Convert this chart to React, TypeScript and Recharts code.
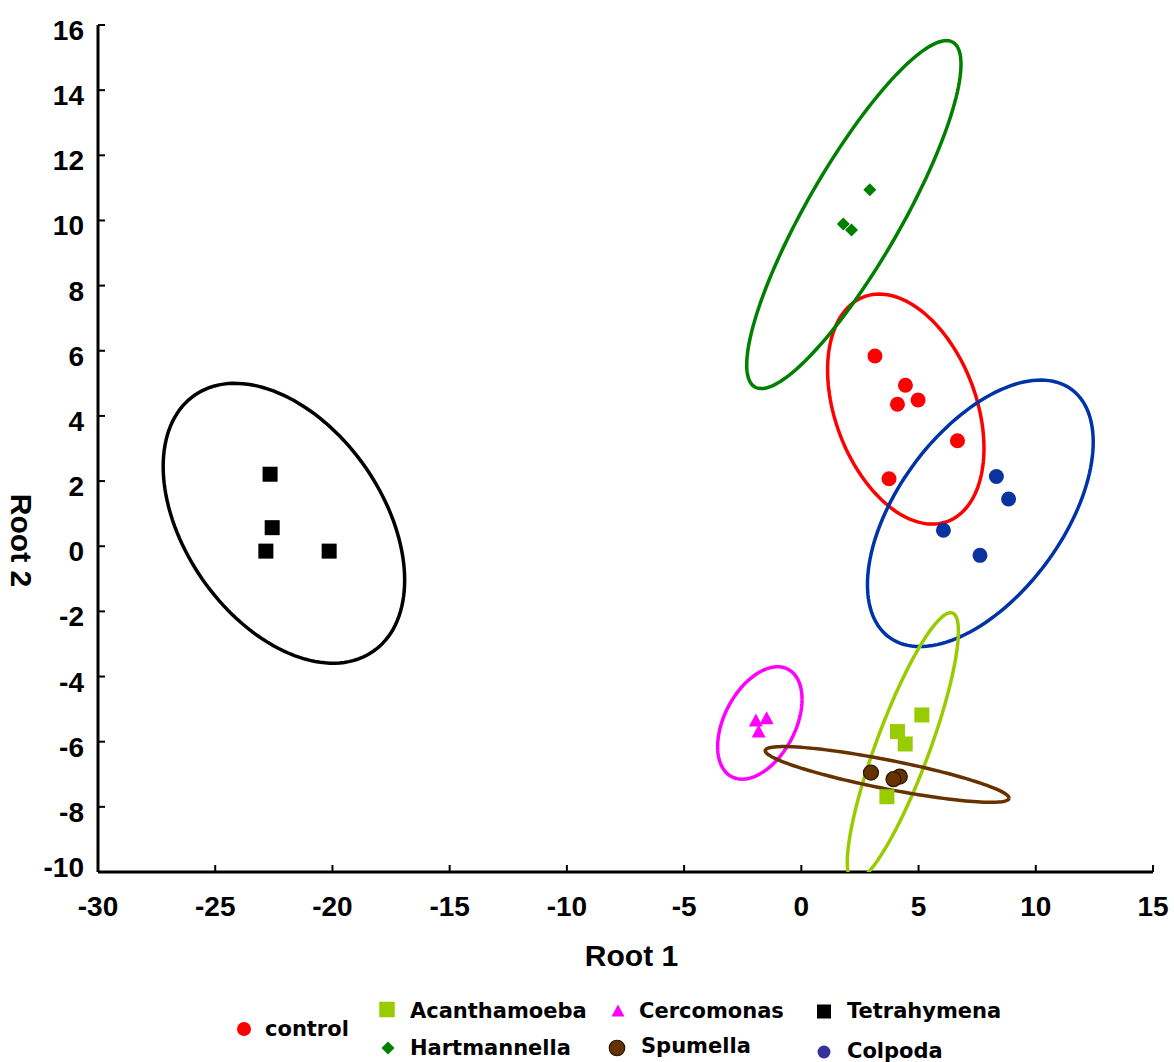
import React from "react";
import { ScatterChart, Scatter, XAxis, YAxis } from "recharts";

// axis ticks
const X_TICKS = [-30, -25, -20, -15, -10, -5, 0, 5, 10, 15];
const X_MINOR = [
  -29, -28, -27, -26, -24, -23, -22, -21, -19, -18, -17, -16, -14, -13, -12, -11,
  -9, -8, -7, -6, -4, -3, -2, -1, 1, 2, 3, 4, 6, 7, 8, 9, 11, 12, 13, 14,
];
const Y_TICKS = [-10, -8, -6, -4, -2, 0, 2, 4, 6, 8, 10, 12, 14, 16];
const Y_MINOR = [-9, -7, -5, -3, -1, 1, 3, 5, 7, 9, 11, 13, 15];

// group scores [root1, root2]
const controlPts = [[3.14, 5.84], [4.44, 4.94], [4.1, 4.36], [4.98, 4.49], [6.66, 3.24], [3.74, 2.07]];
const acanthPts = [[5.14, -5.18], [4.1, -5.69], [4.43, -6.07], [3.65, -7.69]];
const cercoPts = [[-1.48, -5.28], [-1.94, -5.35], [-1.82, -5.69]];
const tetraPts = [[-22.66, 2.21], [-22.57, 0.57], [-22.84, -0.15], [-20.14, -0.15]];
const hartPts = [[2.92, 10.94], [1.79, 9.89], [2.14, 9.71]];
const spumPts = [[2.97, -6.95], [4.2, -7.07], [3.93, -7.15]];
const colpPts = [[8.32, 2.14], [8.84, 1.45], [6.06, 0.49], [7.62, -0.28]];

// confidence ellipses: [centerX, centerY, halfWidthX, halfHeightY, cos(phase)]
const controlEll = [4.455, 4.21, 3.335, 3.53, -0.34];
const acanthEll = [4.33, -6.16, 2.37, 4.12, 0.86];
const cercoEll = [-1.77, -5.425, 1.8, 1.725, 0.42];
const tetraEll = [-22.07, 0.705, 5.15, 4.295, -0.406];
const hartEll = [2.24, 10.18, 4.57, 5.34, 0.864];
const spumEll = [3.66, -7.005, 5.2, 0.855, -0.85];
const colpEll = [7.635, 1.01, 4.815, 4.09, 0.535];

type Kind = "circle" | "square" | "diamond" | "triangle";

const groups: {
  name: string;
  pts: number[][];
  ell: number[];
  color: string;
  line: string;
  kind: Kind;
  size: number;
  outline?: string;
}[] = [
  { name: "control", pts: controlPts, ell: controlEll, color: "#ff0000", line: "#ff0000", kind: "circle", size: 15 },
  { name: "Hartmannella", pts: hartPts, ell: hartEll, color: "#008000", line: "#008000", kind: "diamond", size: 13 },
  { name: "Colpoda", pts: colpPts, ell: colpEll, color: "#0a33a0", line: "#0033a8", kind: "circle", size: 15 },
  { name: "Acanthamoeba", pts: acanthPts, ell: acanthEll, color: "#99cc00", line: "#99cc00", kind: "square", size: 15 },
  { name: "Cercomonas", pts: cercoPts, ell: cercoEll, color: "#ff00ff", line: "#ff00ff", kind: "triangle", size: 14 },
  { name: "Spumella", pts: spumPts, ell: spumEll, color: "#663300", line: "#663300", kind: "circle", size: 15, outline: "#2a1500" },
  { name: "Tetrahymena", pts: tetraPts, ell: tetraEll, color: "#000000", line: "#000000", kind: "square", size: 15 },
];

function ellipsePoints(e: number[]) {
  const [cx, cy, ax, ay, c] = e;
  const phi = Math.acos(c);
  const out: { x: number; y: number }[] = [];
  for (let i = 0; i <= 144; i++) {
    const t = (i / 144) * 2 * Math.PI;
    out.push({ x: cx + ax * Math.cos(t), y: cy + ay * Math.cos(t - phi) });
  }
  return out;
}

function Marker({ kind, cx, cy, color, size, outline }: any) {
  const h = size / 2;
  if (kind === "square")
    return <rect x={cx - h} y={cy - h} width={size} height={size} fill={color} />;
  if (kind === "diamond")
    return <polygon points={`${cx},${cy - h} ${cx + h},${cy} ${cx},${cy + h} ${cx - h},${cy}`} fill={color} />;
  if (kind === "triangle")
    return <polygon points={`${cx},${cy - h} ${cx + h},${cy + h * 0.85} ${cx - h},${cy + h * 0.85}`} fill={color} />;
  return <circle cx={cx} cy={cy} r={h} fill={color} stroke={outline ?? "none"} strokeWidth={outline ? 1.2 : 0} />;
}

const tickFont = {
  fontFamily: "'Liberation Sans', Arial, sans-serif",
  fontWeight: 700,
  fontSize: 28,
  fill: "#000",
};

const XTick = ({ x, y, payload }: any) => (
  <text x={x} y={y} dy={43} textAnchor="middle" {...tickFont}>
    {payload.value}
  </text>
);

const YTick = ({ x, y, payload }: any) => (
  <text x={x} y={y} dy={payload.value === -10 ? 5 : 15} textAnchor="end" {...tickFont}>
    {payload.value}
  </text>
);

const titleFont = {
  fontFamily: "'Liberation Sans', Arial, sans-serif",
  fontWeight: 700,
  fontSize: 30,
  fill: "#000",
};

const legendItems = [
  { name: "control", kind: "circle", color: "#ff0000", size: 14, mx: 244, my: 1029, tx: 265, ty: 1036 },
  { name: "Acanthamoeba", kind: "square", color: "#99cc00", size: 15.5, mx: 387, my: 1009.5, tx: 410, ty: 1018 },
  { name: "Hartmannella", kind: "diamond", color: "#008000", size: 13, mx: 388, my: 1048, tx: 410, ty: 1055 },
  { name: "Cercomonas", kind: "triangle", color: "#ff00ff", size: 13, mx: 618, my: 1011, tx: 639, ty: 1018 },
  { name: "Spumella", kind: "circle", color: "#663300", size: 15.5, mx: 617, my: 1048, tx: 641, ty: 1053, outline: "#2a1500" },
  { name: "Tetrahymena", kind: "square", color: "#000000", size: 14, mx: 824, my: 1011.5, tx: 847, ty: 1018 },
  { name: "Colpoda", kind: "circle", color: "#333399", size: 13, mx: 824, my: 1052, tx: 847, ty: 1058 },
];

export default function App() {
  return (
    <div style={{ position: "absolute", left: 0, top: 0, width: 1174, height: 1062, background: "#fff" }}>
      <ScatterChart width={1174} height={1000} margin={{ top: 25, right: 21, bottom: 68, left: 18 }}>
        <XAxis
          xAxisId="minor"
          type="number"
          dataKey="x"
          orientation="bottom"
          height={0}
          domain={[-30, 15]}
          allowDataOverflow
          ticks={X_MINOR}
          tick={false}
          tickSize={-4}
          axisLine={false}
          tickLine={{ stroke: "#000", strokeWidth: 2 }}
        />
        <XAxis
          xAxisId="x"
          type="number"
          dataKey="x"
          orientation="bottom"
          height={60}
          domain={[-30, 15]}
          allowDataOverflow
          ticks={X_TICKS}
          interval={0}
          tick={<XTick />}
          tickSize={-7}
          tickMargin={8}
          axisLine={{ stroke: "#000", strokeWidth: 3 }}
          tickLine={{ stroke: "#000", strokeWidth: 2 }}
          label={{
            content: ({ viewBox }: any) => (
              <text x={viewBox.x + viewBox.width / 2 + 6} y={viewBox.y + 94} textAnchor="middle" {...titleFont}>
                Root 1
              </text>
            ),
          }}
        />
        <XAxis
          xAxisId="top"
          type="number"
          dataKey="x"
          orientation="top"
          height={0}
          domain={[-30, 15]}
          allowDataOverflow
          ticks={X_TICKS}
          tick={false}
          tickSize={-7}
          axisLine={{ stroke: "#000", strokeWidth: 3 }}
          tickLine={{ stroke: "#000", strokeWidth: 2 }}
        />
        <YAxis
          yAxisId="y"
          type="number"
          dataKey="y"
          orientation="left"
          width={80}
          domain={[-10, 16]}
          allowDataOverflow
          ticks={Y_TICKS}
          interval={0}
          tick={<YTick />}
          tickSize={-7}
          tickMargin={21}
          axisLine={{ stroke: "#000", strokeWidth: 3 }}
          tickLine={{ stroke: "#000", strokeWidth: 2 }}
          label={{
            content: ({ viewBox }: any) => {
              const x = viewBox.x - 7;
              const y = viewBox.y + viewBox.height / 2 + 92;
              return (
                <text x={x} y={y} textAnchor="middle" transform={`rotate(90, ${x}, ${y})`} {...titleFont}>
                  Root 2
                </text>
              );
            },
          }}
        />
        <YAxis
          yAxisId="rightMinor"
          type="number"
          orientation="right"
          width={0}
          domain={[-10, 16]}
          allowDataOverflow
          ticks={Y_MINOR}
          tick={false}
          tickSize={-4}
          axisLine={false}
          tickLine={{ stroke: "#000", strokeWidth: 2 }}
        />
        <YAxis
          yAxisId="right"
          type="number"
          orientation="right"
          width={0}
          domain={[-10, 16]}
          allowDataOverflow
          ticks={Y_TICKS}
          tick={false}
          tickSize={-7}
          axisLine={{ stroke: "#000", strokeWidth: 3 }}
          tickLine={{ stroke: "#000", strokeWidth: 2 }}
        />
        {groups.map((g) => (
          <Scatter
            key={g.name + "-ell"}
            xAxisId="x"
            yAxisId="y"
            data={ellipsePoints(g.ell)}
            line={{ stroke: g.line, strokeWidth: 3.5 }}
            lineType="joint"
            shape={() => <g />}
            isAnimationActive={false}
          />
        ))}
        {groups.map((g) => (
          <Scatter
            key={g.name}
            name={g.name}
            xAxisId="x"
            yAxisId="y"
            data={g.pts.map(([x, y]) => ({ x, y }))}
            shape={(p: any) => (
              <Marker kind={g.kind} cx={p.cx} cy={p.cy} color={g.color} size={g.size} outline={g.outline} />
            )}
            isAnimationActive={false}
          />
        ))}
      </ScatterChart>
      <svg width={1174} height={1062} style={{ position: "absolute", left: 0, top: 0, pointerEvents: "none" }}>
        {legendItems.map((it) => (
          <g key={it.name}>
            <Marker kind={it.kind} cx={it.mx} cy={it.my} color={it.color} size={it.size} outline={it.outline} />
            <text
              x={it.tx}
              y={it.ty}
              fontFamily="'DejaVu Sans', Verdana, sans-serif"
              fontWeight={700}
              fontSize={21}
              fill="#000"
            >
              {it.name}
            </text>
          </g>
        ))}
      </svg>
    </div>
  );
}
